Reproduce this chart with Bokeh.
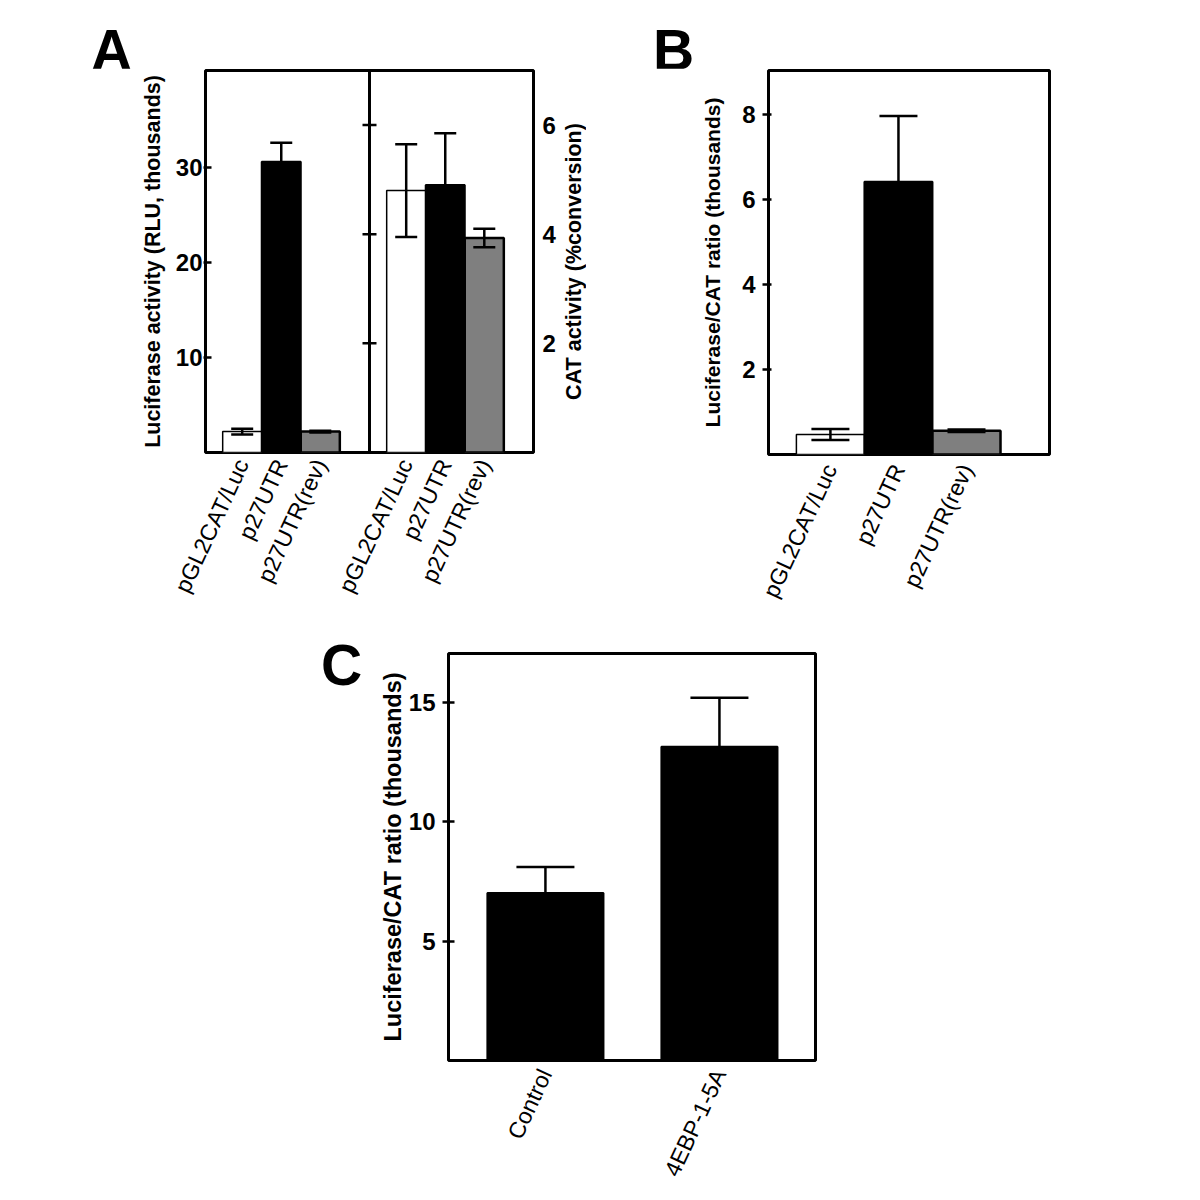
import math
from bokeh.plotting import figure
from bokeh.models import (ColumnDataSource, Range1d, LinearAxis, FixedTicker,
                          Whisker, TeeHead, Span, Div)
from bokeh.layouts import column, row
from bokeh.embed import file_html
from bokeh.resources import INLINE

# ---------------- data ----------------
constructs = ["pGL2CAT/Luc", "p27UTR", "p27UTR(rev)"]
luciferase = [2.2, 30.6, 2.2]          # RLU, thousands
luciferase_err = [0.3, 2.0, 0.1]
cat_activity = [4.80, 4.90, 3.93]      # % conversion
cat_activity_err = [0.85, 0.95, 0.17]
ratio_b = [0.47, 6.42, 0.56]           # Luciferase/CAT ratio (thousands)
ratio_b_err = [0.13, 1.55, 0.03]
treatments = ["Control", "4EBP-1-5A"]
ratio_c = [7.02, 13.15]
ratio_c_err = [1.09, 2.05]

luc_ticks = [10, 20, 30]
cat_ticks = [2, 4, 6]
b_ticks = [2, 4, 6, 8]
c_ticks = [5, 10, 15]
panel_letters = ["A", "B", "C"]

bar_colors = ["white", "black", "#7f7f7f"]
bar_line_widths = [1.5, 2, 2.5]

FONT = "Liberation Sans"


def base_fig(fw, fh, ml, mr, mt, mb, xr, yr):
    p = figure(frame_width=fw, frame_height=fh, min_border_left=ml, min_border_right=mr,
               min_border_top=mt, min_border_bottom=mb, x_range=xr, y_range=yr,
               x_axis_type=None, y_axis_type=None, output_backend="svg",
               toolbar_location=None)
    p.outline_line_color = "black"
    p.outline_line_width = 3
    p.outline_line_alpha = 1
    p.background_fill_color = "white"
    p.border_fill_color = "white"
    return p


def y_axis(ticks, label, tick_out, tick_in, standoff, label_standoff,
           size="24px", lsize="21.5px", **kw):
    return LinearAxis(ticker=FixedTicker(ticks=ticks), axis_label=label,
                      axis_line_color=None, major_tick_out=tick_out, major_tick_in=tick_in,
                      major_tick_line_width=2.5, major_label_standoff=standoff,
                      major_label_text_font=FONT, major_label_text_font_style="bold",
                      major_label_text_font_size=size, major_label_text_color="black",
                      axis_label_text_font=FONT, axis_label_text_font_style="bold",
                      axis_label_text_font_size=lsize, axis_label_text_color="black",
                      axis_label_standoff=label_standoff, **kw)


def x_axis(positions, labels, standoff, size="23px"):
    overrides = {}
    for pos, lab in zip(positions, labels):
        overrides[pos] = lab
    return LinearAxis(ticker=FixedTicker(ticks=positions), major_label_overrides=overrides,
                      major_label_orientation=math.radians(65), axis_line_color=None,
                      major_tick_out=0, major_tick_in=0, major_label_standoff=standoff,
                      major_label_text_font=FONT, major_label_text_font_size=size,
                      major_label_text_color="black")


def bars(p, xs, tops, width, errs, head, y_range_name="default"):
    n = len(xs)
    colors = bar_colors if n == 3 else ["black"] * n
    lws = bar_line_widths if n == 3 else [2] * n
    src = ColumnDataSource(dict(x=xs, top=tops, color=colors, lw=lws,
                                lower=[t - e for t, e in zip(tops, errs)],
                                upper=[t + e for t, e in zip(tops, errs)]))
    p.vbar(x="x", top="top", bottom=0, width=width, source=src, fill_color="color",
           line_color="black", line_width="lw", y_range_name=y_range_name)
    w = Whisker(source=src, base="x", lower="lower", upper="upper", line_width=2.5,
                line_color="black", level="overlay", y_range_name=y_range_name,
                upper_head=TeeHead(size=head, line_width=2.5, line_color="black"),
                lower_head=TeeHead(size=head, line_width=2.5, line_color="black"))
    p.add_layout(w)


def letter_div(w, h, lefts, tops, texts):
    spans = "".join(
        f'<span style="position:absolute;left:{x}px;top:{t}px;font-family:\'{FONT}\';'
        f'font-weight:bold;font-size:57px;line-height:57px;color:black;">{s}</span>'
        for x, t, s in zip(lefts, tops, texts))
    html = f'<div style="position:relative;width:{w}px;height:{h}px;margin:0;padding:0;">{spans}</div>'
    return Div(text=html, width=w, height=h, margin=0)


# ---------------- panel letters A, B ----------------
strip = letter_div(1100, 68, [91, 653], [22, 22], panel_letters[:2])

# ---------------- panel A ----------------
a_start, a_half = 0.06, 4.2
pA = base_fig(328, 382, 205, 22, 2, 168, Range1d(a_start, a_start + 2 * a_half), Range1d(0, 40.2))
cat_range = Range1d(0, 7.0)
pA.extra_y_ranges = {"cat": cat_range}
left_pos = [1, 2, 3]
right_pos = [x + a_half for x in left_pos]
bars(pA, left_pos, luciferase, 1, luciferase_err, 22)
bars(pA, right_pos, cat_activity, 1, cat_activity_err, 22, y_range_name="cat")
divider = a_start + a_half
pA.add_layout(Span(location=divider, dimension="height", line_color="black", line_width=3))
pA.scatter(x=[divider] * len(cat_ticks), y=cat_ticks, marker="dash", size=14,
           line_width=2.5, line_color="black", y_range_name="cat")
pA.add_layout(y_axis(luc_ticks, "Luciferase activity (RLU, thousands)", 2, 6, 1, 8), "left")
ra = y_axis(cat_ticks, None, 0, 0, 9, 0, y_range_name="cat")
pA.add_layout(ra, "right")
pA.add_layout(x_axis(left_pos + right_pos, constructs + constructs, 8), "below")

# title of the CAT axis (reads bottom-to-top, like the left one)
pAt = figure(frame_width=1, frame_height=382, min_border_left=24, min_border_right=0,
             min_border_top=2, min_border_bottom=168, x_range=Range1d(0, 1), y_range=cat_range,
             x_axis_type=None, y_axis_type=None, output_backend="svg", toolbar_location=None)
pAt.outline_line_color = None
cat_title_axis = y_axis([], "CAT activity (%conversion)", 0, 0, 0, 0)
cat_title_axis.major_label_text_font_size = "1px"
pAt.add_layout(cat_title_axis, "left")

# ---------------- panel B ----------------
b_lo, b_hi = 0.09, 4.22
pB = base_fig(281, 384, 182, 60, 2, 166, Range1d(b_lo, b_hi), Range1d(0, 9.04))
bars(pB, [1, 2, 3], ratio_b, 1, ratio_b_err, 38)
pB.add_layout(y_axis(b_ticks, "Luciferase/CAT ratio (thousands)", 6, 3, 7, 15, lsize="21px"), "left")
pB.add_layout(x_axis([1, 2, 3], constructs, 11), "below")

# ---------------- panel C ----------------
c_lo, c_hi = 0.443, 2.552
letterC = letter_div(370, 100, [321], [685 - 620 - 48], panel_letters[2:])
pC = base_fig(367, 407, 78, 40, 33, 128, Range1d(c_lo, c_hi), Range1d(0, 17.06))
bars(pC, [1, 2], ratio_c, 0.667, ratio_c_err, 58)
pC.add_layout(y_axis(c_ticks, "Luciferase/CAT ratio (thousands)", 6, 6, 7, 0,
                     size="24px", lsize="23.5px"), "left")
pC.add_layout(x_axis([1, 2], treatments, 10), "below")

layout = column(strip, row(pA, pAt, pB), row(letterC, pC))
open("out.html", "w").write(file_html(layout, INLINE))
